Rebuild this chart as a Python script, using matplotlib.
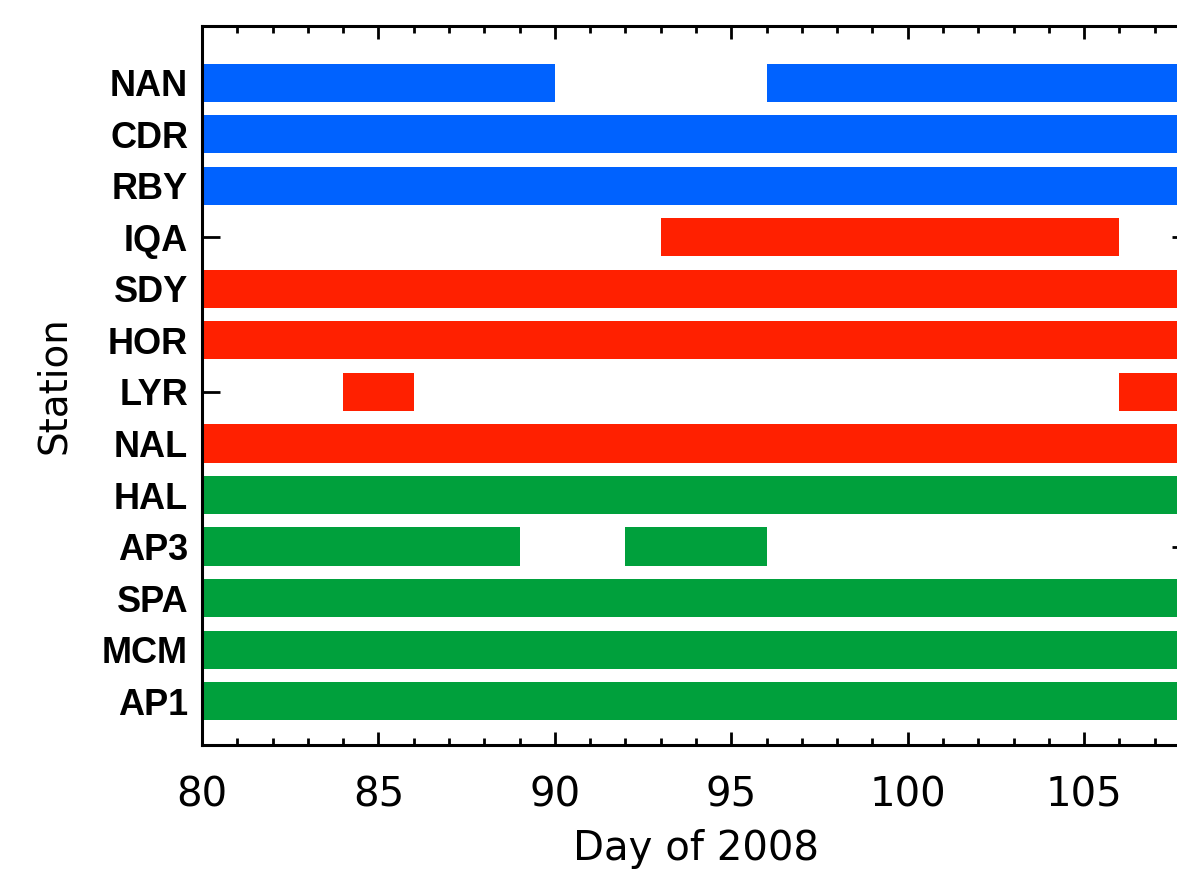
import matplotlib
matplotlib.use("Agg")
import matplotlib.pyplot as plt
from matplotlib.ticker import MultipleLocator

plt.rcParams['font.family'] = ['DejaVu Sans']

stations = ["NAN", "CDR", "RBY", "IQA", "SDY", "HOR", "LYR", "NAL",
            "HAL", "AP3", "SPA", "MCM", "AP1"]
groups = ["blue", "blue", "blue", "red", "red", "red", "red", "red",
          "green", "green", "green", "green", "green"]
# data availability intervals (start day, end day) for each station
intervals = {
    "NAN": [(80, 90), (96, 108)],
    "CDR": [(80, 108)],
    "RBY": [(80, 108)],
    "IQA": [(93, 106)],
    "SDY": [(80, 108)],
    "HOR": [(80, 108)],
    "LYR": [(84, 86), (106, 108)],
    "NAL": [(80, 108)],
    "HAL": [(80, 108)],
    "AP3": [(80, 89), (92, 96)],
    "SPA": [(80, 108)],
    "MCM": [(80, 108)],
    "AP1": [(80, 108)],
}
xticks = [80, 85, 90, 95, 100, 105]

colors = {"blue": "#0062FF", "red": "#FF2000", "green": "#00A03C"}

fig = plt.figure(figsize=(11.77, 8.69), dpi=100)
ax = fig.add_axes([202/1177, (869-745)/869, (1190-202)/1177, (745-26)/869])
ax.set_axisbelow(True)

n = len(stations)
for i, st in enumerate(stations):
    y = n - 1 - i
    segs = [(s, e - s) for s, e in intervals[st]]
    ax.broken_barh(segs, (y - 0.37, 0.74), facecolors=colors[groups[i]],
                   edgecolor='none', zorder=2)

ax.set_xlim(80, 108)
ax.set_ylim(-0.85, n - 1 + 1.1)
ax.set_yticks(range(n))
ax.set_yticklabels(stations[::-1], fontsize=26, fontweight='bold',
                   family=['Liberation Sans', 'DejaVu Sans'])
ax.set_xticks(xticks)
ax.set_xticklabels([str(t) for t in xticks], fontsize=29)
ax.xaxis.set_minor_locator(MultipleLocator(1))

ax.tick_params(axis='x', which='major', direction='in', length=9.5, width=2,
               top=True, bottom=True, pad=22)
ax.tick_params(axis='x', which='minor', direction='in', length=5, width=2,
               top=True, bottom=True)
ax.tick_params(axis='y', which='major', direction='in', length=13, width=2,
               left=True, right=True, pad=10)

for sp in ax.spines.values():
    sp.set_linewidth(2.2)
    sp.set_zorder(3)

ax.set_xlabel("Day of 2008", fontsize=29, labelpad=10)
ax.set_ylabel("Station", fontsize=28, labelpad=21)

fig.savefig("out.png", dpi=100)
